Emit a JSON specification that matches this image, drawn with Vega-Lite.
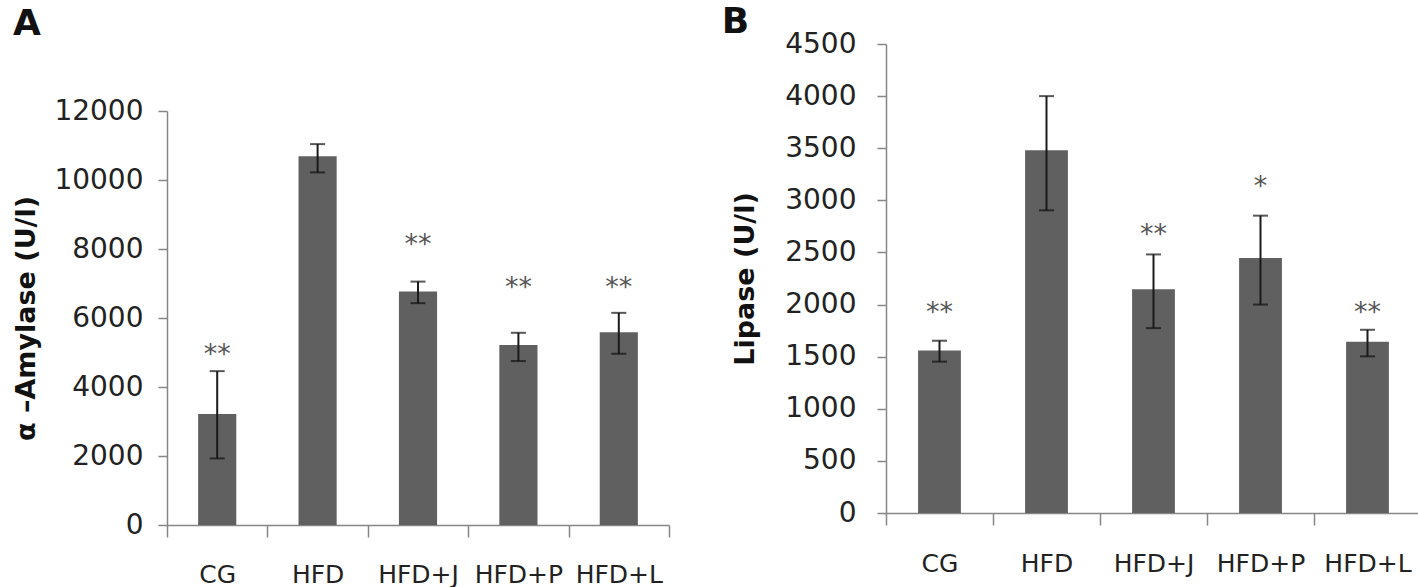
{
  "$schema": "https://vega.github.io/schema/vega-lite/v6.json",
  "background": "white",
  "padding": {"left": 12, "top": 4, "right": 0, "bottom": 0},
  "spacing": 51,
  "config": {
    "view": {"stroke": null},
    "font": "DejaVu Sans",
    "axis": {
      "grid": false,
      "domainColor": "#868686",
      "tickColor": "#868686",
      "domainWidth": 1.5,
      "tickWidth": 1.5,
      "labelFont": "DejaVu Sans",
      "labelFontSize": 25,
      "labelColor": "#222222",
      "titleFont": "DejaVu Sans",
      "titleFontSize": 27,
      "titleFontWeight": "bold",
      "titleColor": "#111111"
    },
    "axisY": {"tickSize": 9, "format": "d", "labelFontSize": 28},
    "axisX": {"tickSize": 12, "labelAngle": 0, "tickBand": "extent", "title": null},
    "title": {"font": "DejaVu Sans", "fontSize": 36, "fontWeight": "bold", "anchor": "start", "frame": "bounds", "color": "#111111"}
  },
  "hconcat": [
    {
      "title": {"text": "A", "offset": 1},
      "width": 502,
      "height": 481,
      "data": {"values": [
        {"group": "CG", "value": 3220, "lo": 1930, "hi": 4460, "sig": "**", "sigy": 5160},
        {"group": "HFD", "value": 10690, "lo": 10220, "hi": 11040, "sig": "", "sigy": 11040},
        {"group": "HFD+J", "value": 6766, "lo": 6430, "hi": 7055, "sig": "**", "sigy": 8357},
        {"group": "HFD+P", "value": 5214, "lo": 4752, "hi": 5571, "sig": "**", "sigy": 7104},
        {"group": "HFD+L", "value": 5590, "lo": 4964, "hi": 6149, "sig": "**", "sigy": 7104}
      ]},
      "encoding": {
        "x": {"field": "group", "type": "nominal", "sort": null,
              "scale": {"paddingInner": 0, "paddingOuter": 0},
              "axis": {"labelPadding": 25}}
      },
      "layer": [
        {"mark": {"type": "bar", "color": "#606060", "width": {"band": 0.38}},
         "encoding": {"y": {"field": "value", "type": "quantitative",
           "scale": {"domain": [0, 12000], "nice": false, "range": [481, 67]},
           "axis": {"values": [0, 2000, 4000, 6000, 8000, 10000, 12000], "title": "α –Amylase (U/l)", "labelPadding": 15, "titlePadding": 13}}}},
        {"mark": {"type": "rule", "color": "#1a1a1a", "strokeWidth": 2},
         "encoding": {"y": {"field": "lo", "type": "quantitative"}, "y2": {"field": "hi"}}},
        {"mark": {"type": "tick", "color": "#111111", "thickness": 2, "size": 15},
         "encoding": {"y": {"field": "lo", "type": "quantitative"}}},
        {"mark": {"type": "tick", "color": "#111111", "thickness": 2, "size": 15},
         "encoding": {"y": {"field": "hi", "type": "quantitative"}}},
        {"mark": {"type": "text", "fontSize": 27, "color": "#555555", "baseline": "alphabetic", "dy": 16},
         "encoding": {"y": {"field": "sigy", "type": "quantitative"}, "text": {"field": "sig"}}}
      ]
    },
    {
      "title": {"text": "B", "offset": -11, "dx": -10},
      "width": 535,
      "height": 469,
      "data": {"values": [
        {"group": "CG", "value": 1558, "lo": 1452, "hi": 1653, "sig": "**", "sigy": 2000},
        {"group": "HFD", "value": 3481, "lo": 2904, "hi": 4000, "sig": "", "sigy": 4000},
        {"group": "HFD+J", "value": 2147, "lo": 1774, "hi": 2481, "sig": "**", "sigy": 2740},
        {"group": "HFD+P", "value": 2446, "lo": 2000, "hi": 2853, "sig": "*", "sigy": 3205},
        {"group": "HFD+L", "value": 1642, "lo": 1503, "hi": 1758, "sig": "**", "sigy": 2000}
      ]},
      "encoding": {
        "x": {"field": "group", "type": "nominal", "sort": null,
              "scale": {"paddingInner": 0, "paddingOuter": 0},
              "axis": {"labelPadding": 26}}
      },
      "layer": [
        {"mark": {"type": "bar", "color": "#606060", "width": {"band": 0.4}},
         "encoding": {"y": {"field": "value", "type": "quantitative",
           "scale": {"domain": [0, 4500], "nice": false},
           "axis": {"values": [0, 500, 1000, 1500, 2000, 2500, 3000, 3500, 4000, 4500], "title": "Lipase (U/l)", "labelPadding": 21, "titlePadding": 25}}}},
        {"mark": {"type": "rule", "color": "#1a1a1a", "strokeWidth": 2},
         "encoding": {"y": {"field": "lo", "type": "quantitative"}, "y2": {"field": "hi"}}},
        {"mark": {"type": "tick", "color": "#111111", "thickness": 2, "size": 15},
         "encoding": {"y": {"field": "lo", "type": "quantitative"}}},
        {"mark": {"type": "tick", "color": "#111111", "thickness": 2, "size": 15},
         "encoding": {"y": {"field": "hi", "type": "quantitative"}}},
        {"mark": {"type": "text", "fontSize": 27, "color": "#555555", "baseline": "alphabetic", "dy": 16},
         "encoding": {"y": {"field": "sigy", "type": "quantitative"}, "text": {"field": "sig"}}}
      ]
    }
  ]
}
